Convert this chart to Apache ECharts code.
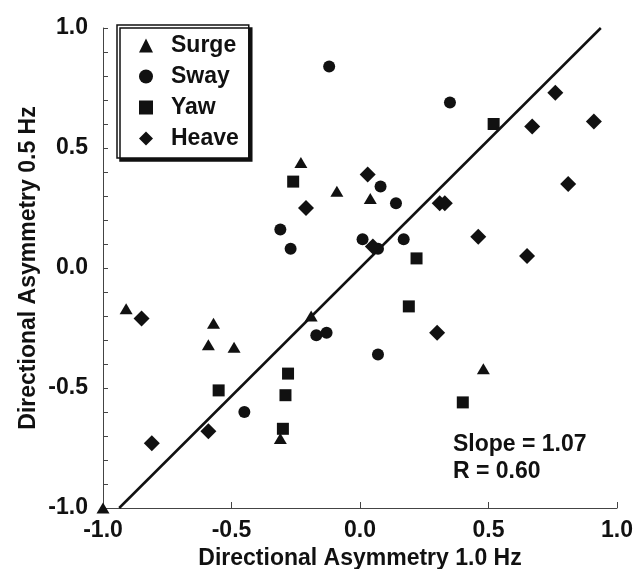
<!DOCTYPE html>
<html>
<head>
<meta charset="utf-8">
<script src="https://cdn.jsdelivr.net/npm/echarts@6/dist/echarts.min.js"></script>
<style>
  html, body { margin: 0; padding: 0; background: #fff; }
  #main { width: 640px; height: 569px; }
</style>
</head>
<body>
<div id="main"></div>
<script>
  // points, [1.0 Hz, 0.5 Hz]
  var surge = [[-0.23, 0.44], [-0.09, 0.32], [0.04, 0.29], [-0.91, -0.17], [-0.57, -0.23],
    [-0.59, -0.32], [-0.49, -0.33], [-0.19, -0.20], [-0.31, -0.71], [-1.0, -1.0], [0.48, -0.42]];
  var sway = [[-0.12, 0.84], [-0.31, 0.16], [-0.27, 0.08], [0.35, 0.69], [0.08, 0.34],
    [0.14, 0.27], [0.01, 0.12], [0.07, 0.08], [0.17, 0.12], [-0.17, -0.28], [-0.13, -0.27],
    [-0.45, -0.60], [0.07, -0.36]];
  var yaw = [[-0.26, 0.36], [0.52, 0.60], [0.22, 0.04], [-0.28, -0.44], [-0.55, -0.51],
    [-0.29, -0.53], [-0.30, -0.67], [0.19, -0.16], [0.40, -0.56]];
  var heave = [[-0.21, 0.25], [0.76, 0.73], [0.91, 0.61], [0.67, 0.59], [0.81, 0.35],
    [0.03, 0.39], [0.31, 0.27], [0.33, 0.27], [0.05, 0.09], [0.46, 0.13], [0.65, 0.05],
    [-0.85, -0.21], [-0.59, -0.68], [-0.81, -0.73], [0.30, -0.27]];
  var fitLine = [[-0.937, -1.0], [0.937, 1.0]];
  var statsText = ['Slope = 1.07', 'R = 0.60'];
  var xTitle = 'Directional Asymmetry 1.0 Hz';
  var yTitle = 'Directional Asymmetry 0.5 Hz';

  var font = 'Liberation Sans, Arial, sans-serif';
  var ink = '#111';
  var axisGray = '#444';

  var myChart = echarts.init(document.getElementById('main'));

  function pts(name, data, symbol, size) {
    return {
      name: name,
      type: 'scatter',
      data: data,
      symbol: symbol,
      symbolSize: size,
      itemStyle: { color: ink, opacity: 1 },
      z: 3
    };
  }

  myChart.setOption({
    animation: false,
    grid: { left: 103, right: 23, top: 28, bottom: 61, outerBoundsMode: 'none', containLabel: false },
    legend: {
      orient: 'vertical',
      left: 117,
      top: 25,
      data: ['Surge', 'Sway', 'Yaw', 'Heave'],
      itemWidth: 14,
      itemHeight: 14,
      itemGap: 8,
      padding: [9, 10, 8, 22],
      backgroundColor: '#fff',
      borderColor: ink,
      borderWidth: 1.5,
      shadowColor: ink,
      shadowBlur: 0,
      shadowOffsetX: 3,
      shadowOffsetY: 3,
      itemStyle: { opacity: 1 },
      textStyle: {
        fontFamily: font,
        fontWeight: 'bold',
        fontSize: 23,
        lineHeight: 23,
        color: ink,
        padding: [0, 0, 0, 13]
      }
    },
    xAxis: {
      type: 'value',
      min: -1,
      max: 1,
      interval: 0.5,
      name: xTitle,
      nameLocation: 'middle',
      nameGap: 39,
      nameMoveOverlap: false,
      nameTextStyle: { fontFamily: font, fontWeight: 'bold', fontSize: 23, color: ink },
      axisLine: { onZero: false, lineStyle: { color: axisGray, width: 1 } },
      axisTick: { inside: true, length: 6, lineStyle: { color: axisGray } },
      axisLabel: {
        margin: 11,
        fontFamily: font, fontWeight: 'bold', fontSize: 23, color: ink,
        formatter: function (v) { return v.toFixed(1); }
      },
      splitLine: { show: false }
    },
    yAxis: {
      type: 'value',
      min: -1,
      max: 1,
      interval: 0.5,
      name: yTitle,
      nameLocation: 'middle',
      nameGap: 63,
      nameMoveOverlap: false,
      nameTextStyle: { fontFamily: font, fontWeight: 'bold', fontSize: 23, color: ink },
      axisLine: { show: true, onZero: false, lineStyle: { color: axisGray, width: 1 } },
      axisTick: { inside: true, length: 5, lineStyle: { color: axisGray } },
      minorTick: { show: true, splitNumber: 5, length: 5, lineStyle: { color: axisGray } },
      axisLabel: {
        margin: 15,
        fontFamily: font, fontWeight: 'bold', fontSize: 23, color: ink,
        formatter: function (v) { return v.toFixed(1); }
      },
      splitLine: { show: false }
    },
    graphic: [
      {
        type: 'text',
        left: 453,
        top: 431,
        style: {
          text: statsText.join('\n'),
          fontFamily: font,
          fontWeight: 'bold',
          fontSize: 23,
          lineHeight: 27,
          fill: ink
        }
      }
    ],
    series: [
      {
        name: 'fit',
        type: 'line',
        data: fitLine,
        symbol: 'none',
        lineStyle: { color: ink, width: 2.5 },
        z: 2
      },
      pts('Surge', surge, 'triangle', [13, 11]),
      pts('Sway', sway, 'circle', 12),
      pts('Yaw', yaw, 'rect', 12),
      pts('Heave', heave, 'diamond', 16)
    ]
  });

  window.onresize = function () {
    myChart.resize();
  };
</script>
</body>
</html>
